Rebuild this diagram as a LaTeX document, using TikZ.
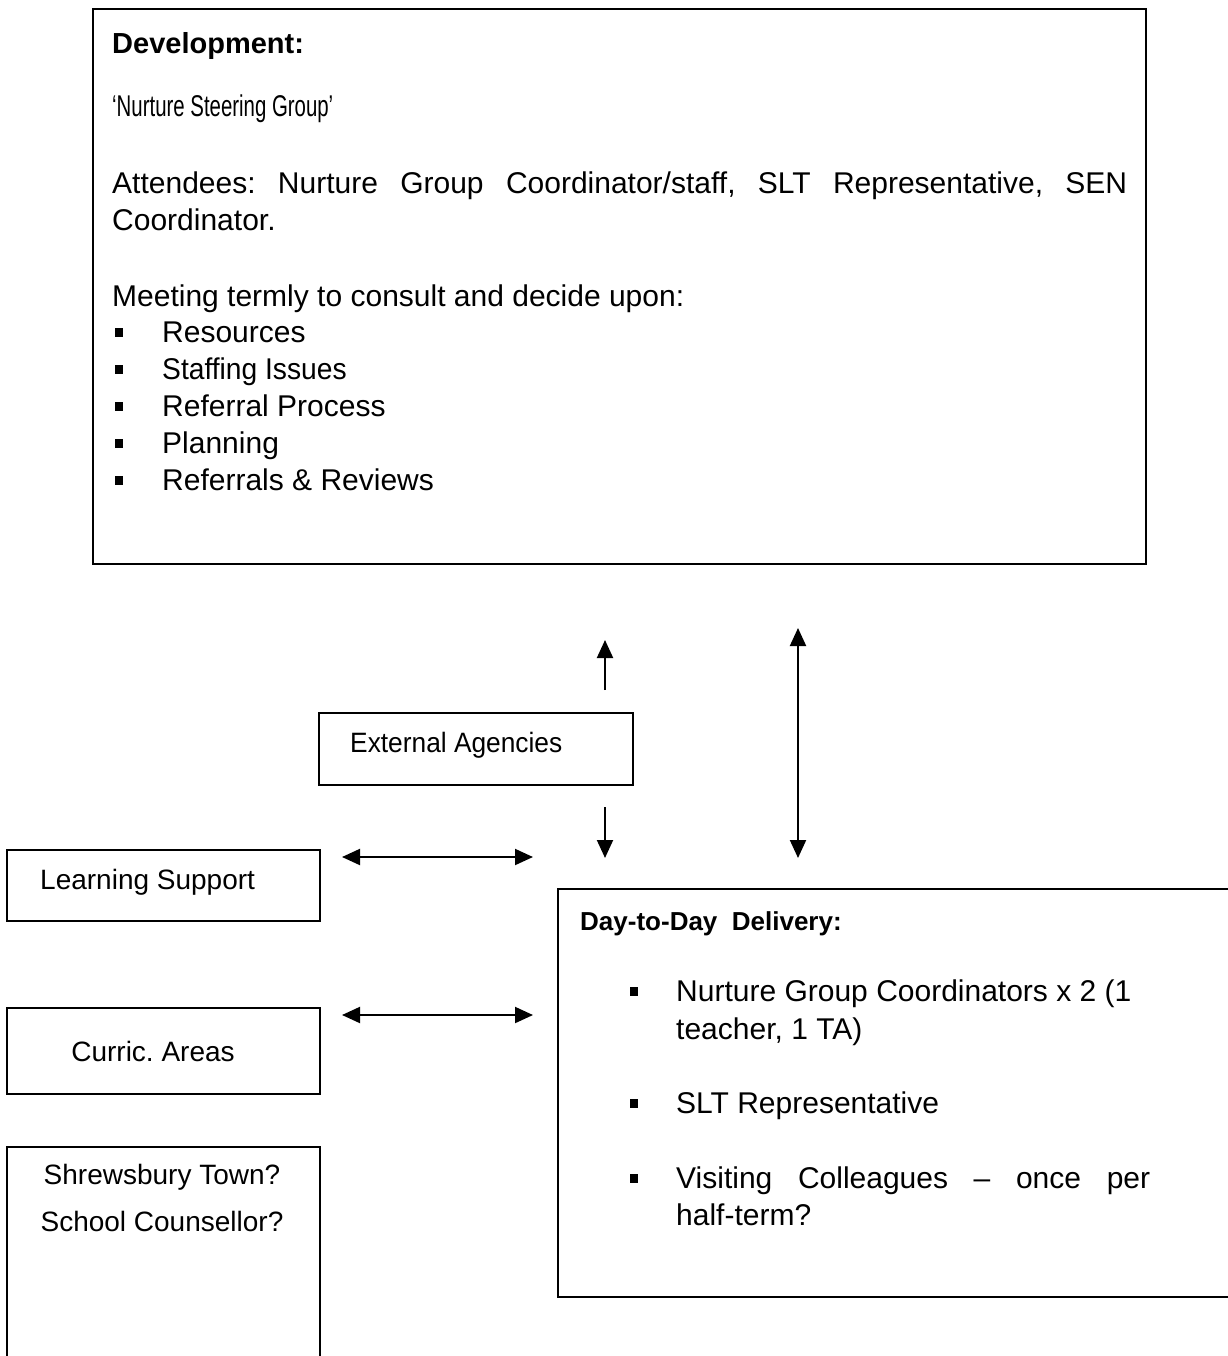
\documentclass[tikz,border=0pt]{standalone}
\usepackage{fontspec}
\setmainfont{Liberation Sans}
\newfontfamily\narrowfont[FakeStretch=0.68]{Liberation Sans}
\newfontfamily\slightfont[FakeStretch=0.94]{Liberation Sans}
\usetikzlibrary{arrows.meta,positioning}
\tikzset{
    panel/.style = {draw, line width = 2pt, inner sep = 0pt, anchor = north west},
    txt/.style = {anchor = base west, inner sep = 0pt, font = \fontsize{30}{37}\selectfont},
    boxtxt/.style = {anchor = base, inner sep = 0pt, font = \fontsize{28}{34}\selectfont},
    head/.style = {anchor = base west, inner sep = 0pt, font = \bfseries\fontsize{29}{33}\selectfont},
    sqdot/.style = {fill, inner sep = 0pt, minimum width = 8pt, minimum height = 9pt},
    link/.style = {line width = 2pt, {Triangle[width=16pt,length=18pt]}-{Triangle[width=16pt,length=18pt]}},
    onelink/.style = {line width = 2pt, -{Triangle[width=16pt,length=18pt]}}
}
\begin{document}
\frenchspacing
\begin{tikzpicture}[x = 1pt, y = -1pt]
    \useasboundingbox (0,0) rectangle (1227,1356);
    % the boxes
    \node[panel, minimum width = 1053pt, minimum height = 555pt] (devbox) at (92,8) {};
    \node[panel, minimum width = 314pt, minimum height = 72pt] (extbox) at (318,712) {};
    \node[panel, minimum width = 313pt, minimum height = 71pt] (learnbox) at (6,849) {};
    \node[panel, minimum width = 313pt, minimum height = 86pt] (curbox) at (6,1007) {};
    \node[panel, minimum width = 313pt, minimum height = 260pt] (townbox) at (6,1146) {};
    \node[panel, minimum width = 720pt, minimum height = 408pt] (daybox) at (557,888) {};
    % development box
    \node[head] (devhead) at (112,54) {Development:};
    \node[txt, font = \narrowfont\fontsize{30}{34}\selectfont] (steer) at (112,117) {‘Nurture Steering Group’};
    \node[txt] (attend) at (112,194) {\makebox[1015pt][s]{Attendees: Nurture Group Coordinator/staff, SLT Representative, SEN}};
    \node[txt] (coord) at (112,231) {Coordinator.};
    \node[txt] (meet) at (112,306) {Meeting termly to consult and decide upon:};
    \foreach [count = \i] \yy/\lbl in {342/Resources, 379/{\slightfont Staffing Issues}, 416/Referral Process, 453/Planning, 490/Referrals \& Reviews} {
        \node[sqdot] (dd\i) at (119,\yy-10) {};
        \node[txt] (topic\i) at (162,\yy) {\lbl};
    }
    % side boxes
    \node[boxtxt, anchor = base west, font = \slightfont\fontsize{28}{34}\selectfont] (ext) at (350,752) {External Agencies};
    \node[boxtxt, anchor = base west] (learn) at (40,889) {Learning Support};
    \node[boxtxt] (cur) at (153,1061) {Curric. Areas};
    \node[boxtxt] (town) at (162,1184) {Shrewsbury Town?};
    \node[boxtxt] (couns) at (162,1231) {School Counsellor?};
    % day-to-day box
    \node[head, font = \bfseries\fontsize{26}{30}\selectfont] (dayhead) at (580,930) {Day-to-Day\ \ Delivery:};
    \foreach [count = \i] \yy/\lbl in {1001/Nurture Group Coordinators x 2 (1, 1113/SLT Representative, 1188/{\makebox[474pt][s]{Visiting Colleagues -- once per}}} {
        \node[sqdot] (dot\i) at (634,\yy-10) {};
        \node[txt] (duty\i) at (676,\yy) {\lbl};
    }
    \node[txt] (duty1b) at (676,1039) {teacher, 1 TA)};
    \node[txt] (duty3b) at (676,1225) {half-term?};
    % arrows
    \coordinate (upfoot) at (605,690);
    \coordinate (uptip) at (605,640);
    \coordinate (downfoot) at (605,807);
    \coordinate (downtip) at (605,858);
    \coordinate (vtop) at (798,628);
    \coordinate (vbot) at (798,858);
    \coordinate (learnl) at (342,857);
    \coordinate (learnr) at (533,857);
    \coordinate (curl) at (342,1015);
    \coordinate (curr) at (533,1015);
    \draw[onelink] (upfoot) -- (uptip);
    \draw[onelink] (downfoot) -- (downtip);
    \draw[link] (vtop) -- (vbot);
    \draw[link] (learnl) -- (learnr);
    \draw[link] (curl) -- (curr);
\end{tikzpicture}
\end{document}
